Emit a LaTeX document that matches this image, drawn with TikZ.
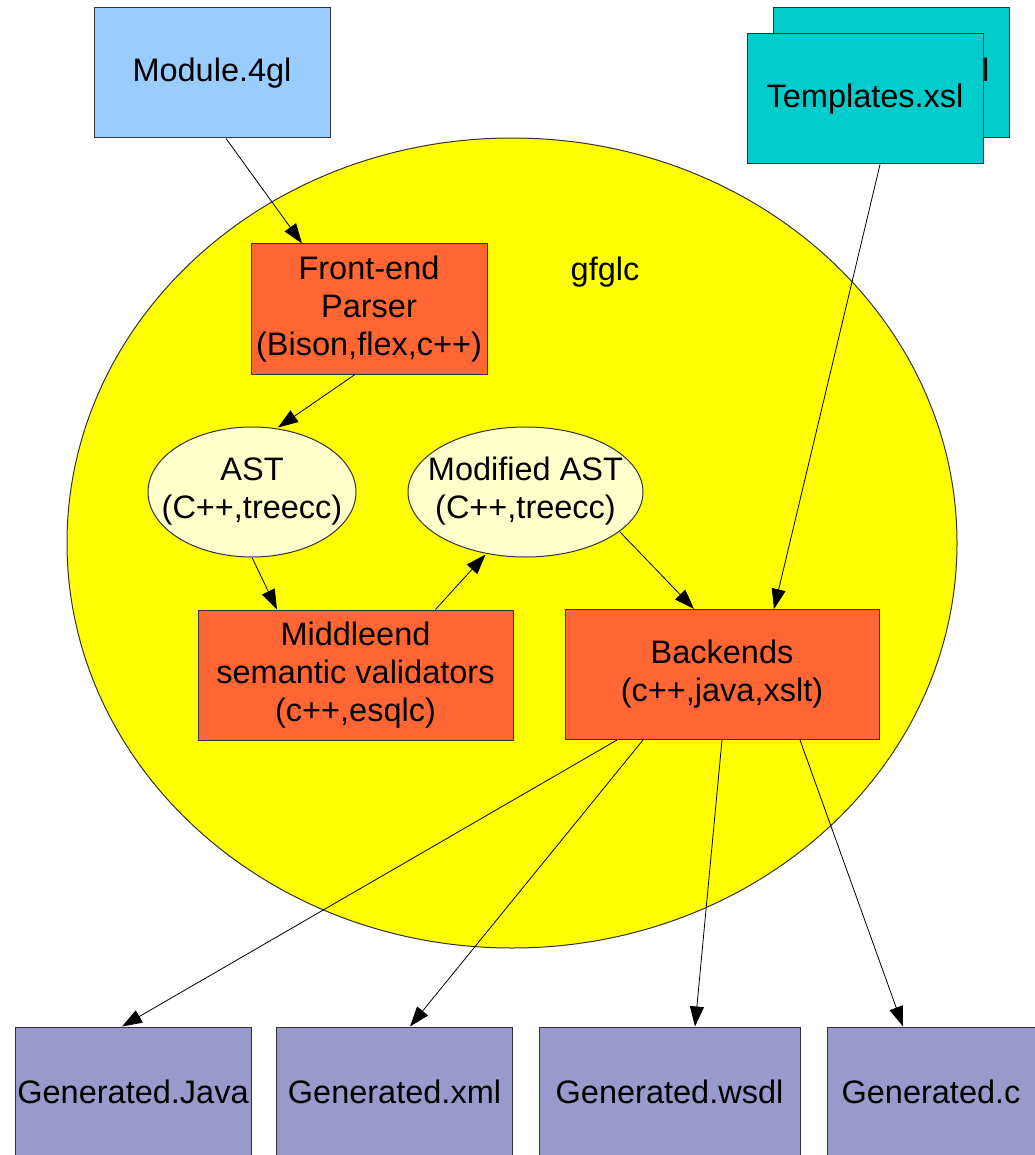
\documentclass[tikz,border=0pt]{standalone}
\usepackage{fontspec}
\setmainfont{Liberation Sans}
\usetikzlibrary{arrows.meta,shapes.geometric}

\definecolor{srcblue}{HTML}{99CCFF}
\definecolor{tplteal}{HTML}{00CCCC}
\definecolor{coreyellow}{HTML}{FFFF00}
\definecolor{stageorange}{HTML}{FF6633}
\definecolor{astcream}{HTML}{FFFFCC}
\definecolor{outpurple}{HTML}{9999CC}
\definecolor{edgegray}{HTML}{333333}

% text that does not widen the shape around it
\newcommand{\tightlabel}[1]{\makebox[0pt]{\begin{tabular}{@{}c@{}}#1\end{tabular}}}

\tikzset{
  every node/.style={font=\fontsize{32.5}{38}\selectfont, align=center, inner sep=0pt},
  filebox/.style={draw=edgegray, line width=1pt, minimum width=236pt, minimum height=130pt},
  stagebox/.style={draw=edgegray, line width=1pt, fill=stageorange, minimum height=130pt},
  datanode/.style={draw=edgegray, line width=1pt, fill=astcream, ellipse, minimum height=130pt},
  flow/.style={draw=black, line width=0.8pt, -{Triangle[length=20pt,width=14pt]}}
}

\begin{document}
\begin{tikzpicture}[x=1pt, y=-1pt]
  \useasboundingbox (0,0) rectangle (1034,1155);

  % compiler boundary
  \node[draw=edgegray, line width=1pt, fill=coreyellow, ellipse,
        minimum width=890pt, minimum height=810pt] (core) at (512,543) {};
  \node (name) at (605,272) {gfglc};

  % inputs
  \node[filebox, fill=tplteal] (tb) at (891,73) {Templates.xsl};
  \node[filebox, fill=tplteal] (tf) at (865,99) {Templates.xsl};
  \node[filebox, fill=srcblue] (mod) at (212,73) {Module.4gl};

  % compiler stages
  \node[stagebox, minimum width=236pt] (fe) at (369,309) {Front-end\\Parser\\(Bison,flex,c++)};
  \node[datanode, minimum width=208pt] (ast) at (252,492) {\tightlabel{AST\\(C++,treecc)}};
  \node[datanode, minimum width=235pt] (mast) at (525.5,492) {\tightlabel{Modified AST\\(C++,treecc)}};
  \node[stagebox, minimum width=315pt] (mid) at (355.5,675) {Middleend\\semantic validators\\(c++,esqlc)};
  \node[stagebox, minimum width=314pt] (back) at (722,674.5) {Backends\\(c++,java,xslt)};

  % outputs
  \node[filebox, fill=outpurple] (gjava) at (133,1092) {Generated.Java};
  \node[filebox, fill=outpurple] (gxml) at (394.5,1092) {Generated.xml};
  \node[filebox, fill=outpurple, minimum width=261pt] (gwsdl) at (669.5,1092) {Generated.wsdl};
  \node[filebox, fill=outpurple, minimum width=208pt] (gc) at (931,1092) {Generated.c};

  % data flow
  \draw[flow] ([xshift=14pt]mod.south) -- ([xshift=-67pt]fe.north);
  \draw[flow] ([xshift=-14pt]fe.south) -- ([xshift=26pt,yshift=-1pt]ast.north);
  \draw[flow] (ast.south) -- ([xshift=-78.5pt]mid.north);
  \draw[flow] ([xshift=80pt]mid.north) -- ([xshift=-40pt,yshift=3pt]mast.south);
  \draw[flow] ([xshift=94.5pt,yshift=-40pt]mast.center) -- ([xshift=-28pt]back.north);
  \draw[flow] ([xshift=15pt]tf.south) -- ([xshift=52pt]back.north);
  \draw[flow] ([xshift=-105pt]back.south) -- ([xshift=-11pt]gjava.north);
  \draw[flow] ([xshift=-79pt]back.south) -- ([xshift=15.5pt]gxml.north);
  \draw[flow] (back.south) -- ([xshift=25.5pt]gwsdl.north);
  \draw[flow] ([xshift=78pt]back.south) -- ([xshift=-28pt]gc.north);
\end{tikzpicture}
\end{document}
